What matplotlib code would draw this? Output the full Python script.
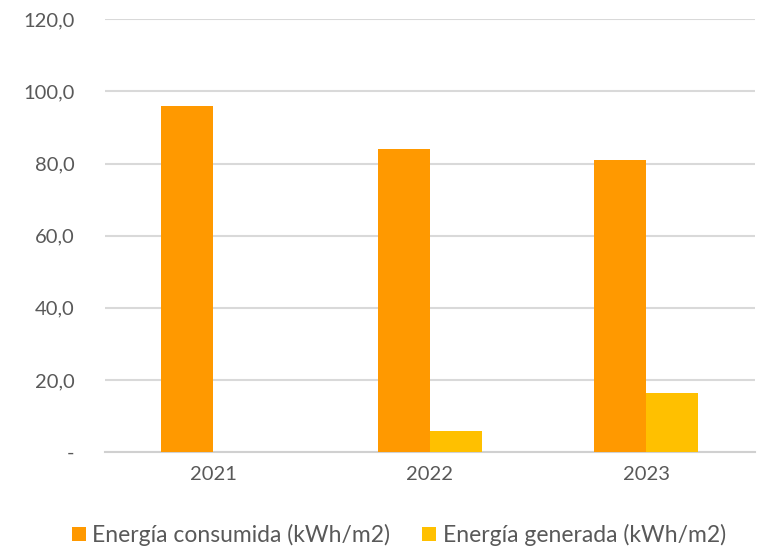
import numpy as np
import matplotlib
matplotlib.use("Agg")
import matplotlib.pyplot as plt
from matplotlib.ticker import FuncFormatter

years = ["2021", "2022", "2023"]
consumida = [96.0, 84.0, 80.9]
generada = [0.0, 5.8, 16.4]
series_labels = ["Energía consumida (kWh/m2)", "Energía generada (kWh/m2)"]

plt.rcParams["font.family"] = ["Lato", "DejaVu Sans"]
text_color = "#595959"

fig = plt.figure(figsize=(7.6, 5.5), dpi=100)
ax = fig.add_axes([0.138, 0.178, 0.855, 0.787])

x = np.arange(len(years))
w = 0.24
ax.bar(x - w / 2, consumida, w, color="#FF9900", label=series_labels[0], zorder=3)
ax.bar(x + w / 2, generada, w, color="#FFC000", label=series_labels[1], zorder=3)

ax.set_xlim(-0.5, 2.5)
ax.set_ylim(0, 120)
ax.set_yticks(np.arange(0, 121, 20))
ax.yaxis.set_major_formatter(FuncFormatter(lambda v, p: "-" if v == 0 else f"{v:.1f}".replace(".", ",")))
ax.set_xticks(x)
ax.set_xticklabels(years)

ax.grid(axis="y", color="#D9D9D9", linewidth=1.5, zorder=0)
for s in ["top", "right", "left"]:
    ax.spines[s].set_visible(False)
ax.spines["bottom"].set_color("#D0D0D0")
ax.spines["bottom"].set_linewidth(1.5)
ax.tick_params(axis="both", length=0, labelsize=14.5, colors=text_color)
ax.tick_params(axis="y", pad=22)
ax.tick_params(axis="x", pad=10)

leg = fig.legend(loc="lower center", bbox_to_anchor=(0.525, -0.03), ncol=2, frameon=False,
                 fontsize=16.5, handlelength=0.6, handleheight=0.6, handletextpad=0.3,
                 columnspacing=1.4)
for t in leg.get_texts():
    t.set_color(text_color)

fig.savefig("out.png", dpi=100)
